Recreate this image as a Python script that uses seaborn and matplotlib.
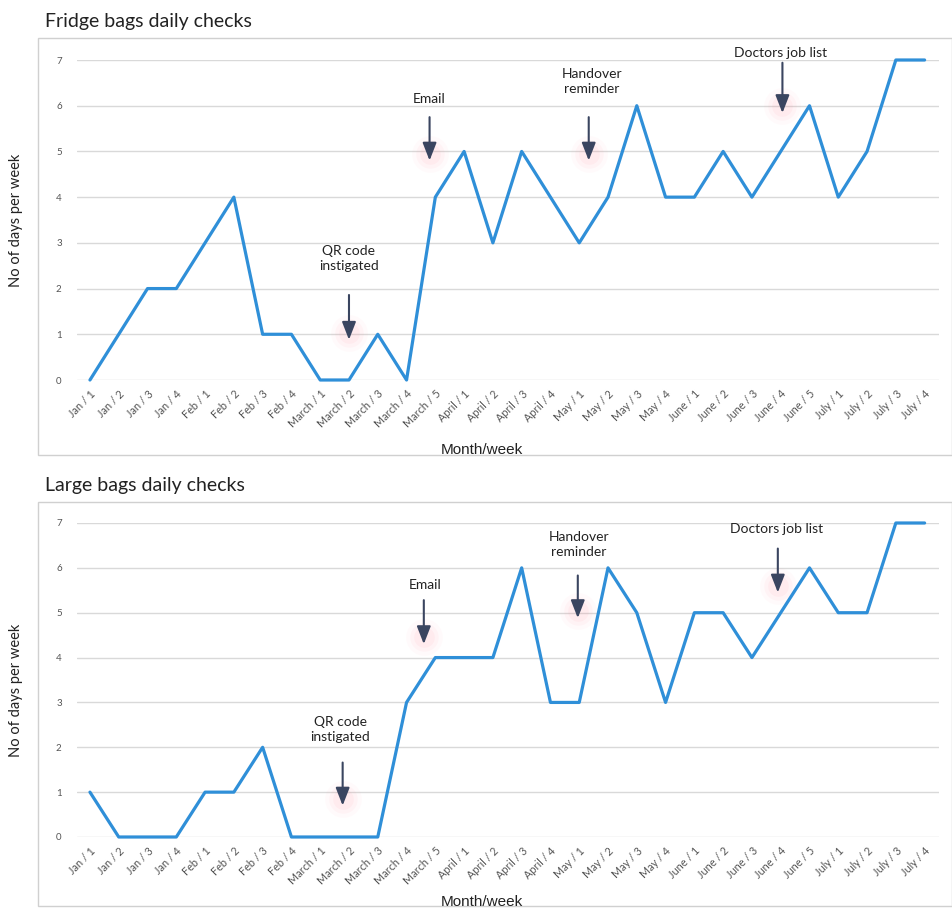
import matplotlib
matplotlib.use("Agg")
import matplotlib.pyplot as plt
import seaborn as sns
import pandas as pd
from matplotlib.patches import Rectangle

weeks = ["Jan / 1", "Jan / 2", "Jan / 3", "Jan / 4",
         "Feb / 1", "Feb / 2", "Feb / 3", "Feb / 4",
         "March / 1", "March / 2", "March / 3", "March / 4", "March / 5",
         "April / 1", "April / 2", "April / 3", "April / 4",
         "May / 1", "May / 2", "May / 3", "May / 4",
         "June / 1", "June / 2", "June / 3", "June / 4", "June / 5",
         "July / 1", "July / 2", "July / 3", "July / 4"]

fridge_days = [0, 1, 2, 2, 3, 4, 1, 1, 0, 0, 1, 0, 4, 5, 3, 5, 4,
               3, 4, 6, 4, 4, 5, 4, 5, 6, 4, 5, 7, 7]
large_days = [1, 0, 0, 0, 1, 1, 2, 0, 0, 0, 0, 3, 4, 4, 4, 6, 3,
              3, 6, 5, 3, 5, 5, 4, 5, 6, 5, 5, 7, 7]

titles = ["Fridge bags daily checks", "Large bags daily checks"]
y_ticks = [0, 1, 2, 3, 4, 5, 6, 7]

# annotations: (label, text_x, text_y, arrow_x, tail_y, tip_y)
fridge_notes = [("QR code\ninstigated", 9.0, 2.65, 9.0, 1.86, 0.88),
                ("Email", 11.8, 6.15, 11.8, 5.75, 4.8),
                ("Handover\nreminder", 17.45, 6.54, 17.33, 5.75, 4.8),
                ("Doctors job list", 24.0, 7.15, 24.06, 6.94, 5.84)]
large_notes = [("QR code\ninstigated", 8.7, 2.39, 8.78, 1.66, 0.7),
               ("Email", 11.63, 5.61, 11.6, 5.28, 4.3),
               ("Handover\nreminder", 16.98, 6.52, 16.95, 5.83, 4.88),
               ("Doctors job list", 23.85, 6.87, 23.9, 6.43, 5.45)]

sns.set_theme(style="white")
plt.rcParams['font.family'] = ['Lato', 'DejaVu Sans']

W, H = 952, 910
fig = plt.figure(figsize=(W / 100, H / 100), dpi=100)

def fx(px):
    return px / W

def fy(py):
    return 1 - py / H

panels = [
    dict(vals=fridge_days, notes=fridge_notes, title=titles[0],
         y0=380, y7=60, box=(38, 38, 952, 455), title_y=21, xlab_y=450, ylab_y=220),
    dict(vals=large_days, notes=large_notes, title=titles[1],
         y0=837, y7=523, box=(38, 502, 952, 906), title_y=485, xlab_y=902, ylab_y=690),
]

line_color = "#2f8fd8"
arrow_color = "#3a4560"

for p in panels:
    bx0, by0, bx1, by1 = p["box"]
    fig.patches.append(Rectangle((fx(bx0), fy(by1)), fx(bx1 - bx0), (by1 - by0) / H,
                                 transform=fig.transFigure, fill=False,
                                 edgecolor="#d0d0d0", linewidth=1.0, zorder=0))
    ax = fig.add_axes([fx(77), fy(p["y0"]), fx(939 - 77), (p["y0"] - p["y7"]) / H])
    df = pd.DataFrame({"week": weeks, "days": p["vals"]})
    sns.lineplot(data=df, x="week", y="days", sort=False, ax=ax,
                 color=line_color, linewidth=2.3, clip_on=False, zorder=3)
    ax.set_xlim(-0.45, len(weeks) - 0.5)
    ax.set_ylim(0, 7)
    ax.set_yticks(y_ticks)
    ax.set_yticklabels([str(v) for v in y_ticks], fontsize=7, color="#555555")
    ax.set_xticks(range(len(weeks)))
    ax.set_xticklabels(weeks, rotation=45, ha="right", rotation_mode="anchor",
                       fontsize=7.8, color="#555555")
    ax.tick_params(axis="both", length=0, pad=6)
    ax.tick_params(axis="y", pad=11)
    for s in ax.spines.values():
        s.set_visible(False)
    ax.grid(axis="y", color="#d9d9d9", linewidth=1.0)
    ax.set_axisbelow(True)
    ax.set_xlabel("")
    ax.set_ylabel("")
    ax.patch.set_alpha(0)

    fig.text(fx(45), fy(p["title_y"]), p["title"], fontsize=14, color="#222222",
             ha="left", va="center")
    fig.text(fx(482), fy(p["xlab_y"]), "Month/week", fontsize=11, color="#222222",
             ha="center", va="center", family=["Liberation Sans", "DejaVu Sans"])
    fig.text(fx(16), fy(p["ylab_y"]), "No of days per week", fontsize=10.5,
             color="#222222", ha="center", va="center", rotation=90)

    for label, tx, ty, axx, tail, tip in p["notes"]:
        for s, a in [(700, 0.04), (420, 0.06), (220, 0.08)]:
            ax.scatter([axx], [tip + 0.15], s=s, color="#ff8fa0", alpha=a,
                       linewidths=0, zorder=2, clip_on=False)
        ax.annotate("", xy=(axx, tip), xytext=(axx, tail),
                    arrowprops=dict(arrowstyle="-|>,head_length=0.9,head_width=0.35",
                                    color=arrow_color, lw=1.5, shrinkA=0, shrinkB=0),
                    zorder=4, annotation_clip=False)
        ax.text(tx, ty, label, fontsize=10, color="#222222", ha="center",
                va="center", linespacing=1.3, zorder=5, clip_on=False)

fig.savefig("out.png", dpi=100)
